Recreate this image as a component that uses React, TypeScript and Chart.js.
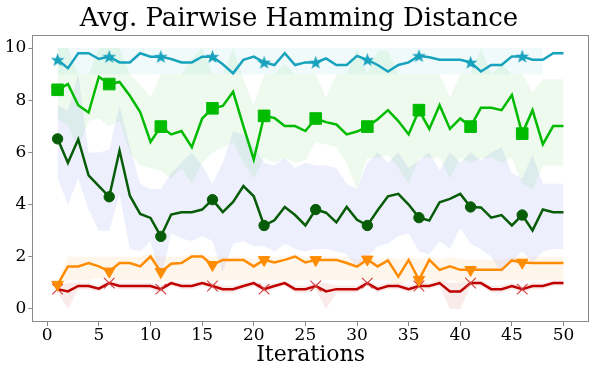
import React, { useEffect, useRef } from 'react';
import { Chart, registerables } from 'chart.js';

Chart.register(...registerables);

const TITLE = 'Avg. Pairwise Hamming Distance';
const X_LABEL = 'Iterations';

const iterations = [1,2,3,4,5,6,7,8,9,10,11,12,13,14,15,16,17,18,19,20,21,22,23,24,25,26,27,28,29,30,31,32,33,34,35,36,37,38,39,40,41,42,43,44,45,46,47,48,49,50];
const xTicks = [0,5,10,15,20,25,30,35,40,45,50];
const yTicks = [0,2,4,6,8,10];

const cyanMean = [9.55,9.23,9.8,9.8,9.58,9.67,9.45,9.45,9.8,9.67, 9.67,9.58,9.45,9.45,9.67,9.67,9.38,9.03,9.55,9.67, 9.45,9.35,9.8,9.35,9.45,9.45,9.6,9.35,9.35,9.7, 9.55,9.35,9.1,9.35,9.45,9.7,9.65,9.55,9.55,9.55, 9.45,9.1,9.35,9.35,9.68,9.68,9.55,9.55,9.8,9.8];
const cyanUpper = [10,10,10,10,10,10,10,10,10,10, 10,10,10,10,10,10,10,10,10,10, 10,10,10,10,10,10,10,10,10,10, 10,10,10,10,10,10,10,10,10,10, 10,10,10,10,10,10,10,10,null,null];
const cyanLower = [9.0,9.0,9.0,9.0,9.0,9.0,9.0,9.0,9.0,9.0, 9.0,9.0,9.0,9.0,9.0,9.0,9.0,9.0,9.0,9.0, 9.0,9.0,9.0,9.0,9.0,9.0,9.0,9.0,9.0,9.0, 9.0,9.0,9.0,9.0,9.0,9.0,9.0,9.0,9.0,9.0, 9.0,9.0,9.0,9.0,9.0,9.0,9.0,9.0,null,null];

const greenMean = [8.4,8.62,7.81,7.53,8.9,8.62,8.7,8.17,7.55,6.4, 6.99,6.69,6.82,6.2,7.3,7.69,7.78,8.32,7.0,5.73, 7.4,7.32,7.01,7.01,6.82,7.3,7.16,7.07,6.69,6.8, 6.99,7.27,7.62,7.2,6.69,7.62,6.9,7.81,6.9,7.3, 6.99,7.71,7.71,7.62,8.2,6.72,7.62,6.31,7.01,7.01];
const greenUpper = [10,10,9.0,9.0,10,10,10,9.0,8.6,8.1, 9.0,9.0,9.0,9.6,10,9.0,9.0,10,8.8,7.8, 9.0,9.0,9.4,9.0,9.0,9.0,8.1,9.0,9.0,10, 9.0,9.9,9.9,9.0,9.0,9.0,9.0,9.0,8.1,9.0, 9.0,10,9.0,9.4,9.0,9.0,8.3,8.8,8.8,8.8];
const greenLower = [7.3,7.0,6.2,7.2,7.3,7.0,7.2,6.0,5.5,5.4, 5.3,5.0,5.4,4.8,5.6,6.0,6.2,6.4,5.6,5.0, 5.8,5.6,5.8,5.6,5.7,6.4,6.3,6.2,5.6,4.6, 5.8,5.8,5.9,5.4,4.8,5.8,5.8,5.8,5.0,5.8, 5.6,5.8,5.8,5.6,5.8,4.8,4.6,5.5,5.5,5.5];

const darkMean = [6.52,5.6,6.5,5.12,4.71,4.3,6.07,4.34,3.64,3.49, 2.78,3.62,3.71,3.71,3.81,4.19,3.71,4.1,4.71,4.32, 3.2,3.4,3.91,3.6,3.2,3.81,3.69,3.32,3.91,3.42, 3.2,3.78,4.32,4.41,4.0,3.5,3.39,4.09,4.22,4.41, 3.91,3.89,3.5,3.6,3.2,3.6,3.01,3.81,3.71,3.71];
const darkUpper = [7.8,7.6,9.0,6.0,6.0,6.1,7.8,6.2,4.8,4.6, 4.6,5.2,5.6,6.0,5.5,4.8,5.6,6.8,6.7,6.2, 5.6,5.5,5.8,5.4,5.6,5.5,5.5,5.4,4.8,4.6, 5.6,6.0,5.6,6.0,5.4,5.7,6.0,5.3,6.0,5.6, 6.0,5.7,6.0,6.2,5.2,5.0,5.9,4.8,4.8,4.8];
const darkLower = [5.0,4.0,5.0,3.8,3.0,3.0,4.4,2.3,2.2,2.6, 1.1,2.9,2.7,2.6,2.8,2.6,1.4,2.5,2.6,2.4, 2.4,2.2,2.5,2.3,2.2,2.3,2.3,2.2,2.1,1.6, 2.0,2.4,2.5,2.8,2.9,2.2,2.1,2.6,2.3,3.1, 2.5,2.3,2.0,1.4,1.8,2.2,1.8,2.2,2.3,2.3];

const orangeMean = [0.93,1.63,1.63,1.76,1.63,1.44,1.76,1.76,1.63,2.01, 1.42,1.73,1.76,2.01,2.01,1.69,1.88,1.88,1.88,1.63, 1.88,1.78,1.88,2.01,1.78,1.88,1.88,1.88,1.76,1.62, 1.9,1.63,1.86,1.24,1.88,1.12,1.88,1.5,1.63,1.5, 1.5,1.5,1.5,1.5,1.86,1.78,1.76,1.76,1.76,1.76];
const orangeUpper = [1.0,2.0,2.0,2.0,2.0,2.0,2.0,2.0,2.0,2.1, 2.0,2.0,2.0,2.1,2.1,2.0,2.0,2.0,2.0,1.9, 2.0,2.0,2.0,2.1,2.0,2.0,2.0,2.0,2.0,1.9, 2.0,1.9,2.0,1.9,2.0,1.9,2.0,1.9,2.0,1.9, 1.9,1.9,1.9,1.9,2.0,2.0,2.0,2.0,2.0,2.0];
const orangeLower = [0.85,1.1,1.1,1.1,1.2,1.05,1.1,1.1,1.1,1.1, 1.0,1.1,1.1,1.1,1.1,1.05,1.1,1.1,1.1,1.1, 1.1,1.1,1.1,1.1,1.1,1.1,1.1,1.1,1.1,1.1, 1.1,1.1,1.1,0.9,1.1,0.85,1.1,1.0,1.1,1.0, 1.1,1.1,1.1,1.1,1.1,1.1,1.1,1.1,1.1,1.1];

const redMean = [0.76,0.67,0.88,0.88,0.78,0.99,0.88,0.88,0.88,0.88, 0.76,0.99,0.88,0.88,0.99,0.88,0.76,0.76,0.88,0.99, 0.76,0.88,0.99,0.76,0.76,0.88,0.67,0.76,0.76,0.76, 0.99,0.76,0.88,0.88,0.76,0.88,0.88,0.99,0.67,0.67, 0.99,0.99,0.76,0.76,0.88,0.76,0.88,0.88,0.99,0.99];
const redUpper = [0.9,1.0,1.0,1.0,0.9,1.1,1.0,1.0,1.0,1.0, 0.9,1.1,1.0,1.0,1.1,1.0,0.9,0.9,1.0,1.1, 0.9,1.0,1.1,0.9,0.9,1.0,1.0,0.9,0.9,0.9, 1.1,0.9,1.0,1.0,0.9,1.0,1.0,1.1,1.0,1.0, 1.1,1.1,0.9,0.9,1.0,0.9,1.0,1.0,1.1,1.1];
const redLower = [0.62,0.0,0.76,0.76,0.66,0.88,0.76,0.76,0.76,0.76, 0.62,0.88,0.76,0.76,0.88,0.76,0.62,0.62,0.76,0.88, 0.62,0.76,0.88,0.62,0.62,0.76,0.0,0.62,0.62,0.62, 0.88,0.62,0.76,0.76,0.62,0.76,0.76,0.88,0.0,0.0, 0.88,0.88,0.62,0.62,0.76,0.62,0.76,0.76,0.88,0.88];

const FONT = "'DejaVu Serif', serif";
const AXIS_GRAY = '#8a8a8a';

const C_CYAN = '#17a2bd';
const C_GREEN = '#00bb00';
const C_DARK = '#075c07';
const C_ORANGE = '#ff8c00';
const C_RED = '#c00000';

function toXY(vals: (number | null)[]) {
  return iterations.map((x, i) => ({ x, y: vals[i] }));
}

function makeStar(color: string, outer: number, inner: number) {
  const size = Math.ceil(outer * 2 + 2);
  const c = document.createElement('canvas');
  c.width = size;
  c.height = size;
  const g = c.getContext('2d')!;
  g.translate(size / 2, size / 2 + 0.5);
  g.beginPath();
  for (let k = 0; k < 10; k++) {
    const r = k % 2 === 0 ? outer : inner;
    const a = -Math.PI / 2 + (k * Math.PI) / 5;
    g.lineTo(r * Math.cos(a), r * Math.sin(a));
  }
  g.closePath();
  g.fillStyle = color;
  g.fill();
  return c;
}

function bandSets(lower: (number | null)[], upper: (number | null)[], color: string) {
  return [
    { data: toXY(lower), borderWidth: 0, borderColor: 'rgba(0,0,0,0)', pointRadius: 0, fill: false },
    { data: toXY(upper), borderWidth: 0, borderColor: 'rgba(0,0,0,0)', pointRadius: 0, fill: '-1', backgroundColor: color },
  ];
}

function lineSet(vals: number[], color: string, style: any, radius: number, extra: any = {}) {
  return {
    data: toXY(vals),
    borderColor: color,
    borderWidth: 2.5,
    fill: false,
    tension: 0,
    pointStyle: style,
    pointRadius: (ctx: any) => (ctx.dataIndex % 5 === 0 ? radius : 0),
    pointBackgroundColor: color,
    pointBorderColor: color,
    pointBorderWidth: 1,
    ...extra,
  };
}

const boxPlugin = {
  id: 'boxPlugin',
  afterDraw(chart: any) {
    const { ctx, chartArea } = chart;
    ctx.save();
    ctx.strokeStyle = AXIS_GRAY;
    ctx.lineWidth = 1;
    const l = Math.round(chartArea.left) + 0.5;
    const t = Math.round(chartArea.top) + 0.5;
    const r = Math.round(chartArea.right) - 0.5;
    const b = Math.round(chartArea.bottom) - 0.5;
    ctx.strokeRect(l, t, r - l, b - t);
    ctx.fillStyle = '#000';
    ctx.font = `26px ${FONT}`;
    ctx.textAlign = 'center';
    ctx.textBaseline = 'alphabetic';
    ctx.fillText(TITLE, chart.width / 2, 26);
    ctx.restore();
  },
};

export default function App() {
  const ref = useRef<HTMLCanvasElement | null>(null);
  useEffect(() => {
    document.body.style.margin = '0';
    if (!ref.current) return;
    const star = makeStar(C_CYAN, 7.2, 2.9);
    const chart = new Chart(ref.current, {
      type: 'line',
      data: {
        datasets: [
          lineSet(cyanMean, C_CYAN, star, 6),
          lineSet(greenMean, C_GREEN, 'rect', 8.2),
          lineSet(darkMean, C_DARK, 'circle', 5.2),
          lineSet(orangeMean, C_ORANGE, 'triangle', 6.6, { pointRotation: 180 }),
          lineSet(redMean, C_RED, 'crossRot', 7.5, { pointBorderColor: '#d23a3a', pointBorderWidth: 1.1 }),
          ...bandSets(cyanLower, cyanUpper, 'rgba(23,162,189,0.06)'),
          ...bandSets(greenLower, greenUpper, 'rgba(0,190,0,0.07)'),
          ...bandSets(darkLower, darkUpper, 'rgba(80,100,235,0.1)'),
          ...bandSets(orangeLower, orangeUpper, 'rgba(255,140,0,0.08)'),
          ...bandSets(redLower, redUpper, 'rgba(192,0,0,0.08)'),
        ] as any,
      },
      options: {
        responsive: false,
        animation: false,
        devicePixelRatio: 1,
        events: [],
        layout: { padding: { left: 0, right: 6.3, top: 35, bottom: 0 } },
        plugins: {
          legend: { display: false },
          tooltip: { enabled: false },
          title: { display: false },
          filler: { drawTime: 'beforeDatasetsDraw' } as any,
        },
        scales: {
          x: {
            type: 'linear',
            min: -1.45,
            max: 52.45,
            afterBuildTicks: (axis: any) => {
              axis.ticks = xTicks.map((v) => ({ value: v }));
            },
            afterFit: (axis: any) => {
              axis.height = 47;
            },
            ticks: { color: '#000', font: { family: FONT, size: 17 }, padding: -1, maxRotation: 0, autoSkip: false },
            grid: { display: true, drawOnChartArea: false, drawTicks: true, tickLength: 4, color: AXIS_GRAY },
            border: { display: false },
            title: {
              display: true,
              text: X_LABEL,
              color: '#000',
              font: { family: FONT, size: 22, lineHeight: 1.2 },
              padding: { top: 0, bottom: 1 },
            },
          },
          y: {
            type: 'linear',
            min: -0.5,
            max: 10.5,
            afterBuildTicks: (axis: any) => {
              axis.ticks = yTicks.map((v) => ({ value: v }));
            },
            afterFit: (axis: any) => {
              axis.width = 32.3;
            },
            ticks: { color: '#000', font: { family: FONT, size: 17 }, padding: 2, autoSkip: false },
            grid: { display: true, drawOnChartArea: false, drawTicks: true, tickLength: 4, color: AXIS_GRAY },
            border: { display: false },
          },
        },
      },
      plugins: [boxPlugin],
    });
    return () => chart.destroy();
  }, []);
  return <canvas ref={ref} width={598} height={369} style={{ display: 'block' }} />;
}
